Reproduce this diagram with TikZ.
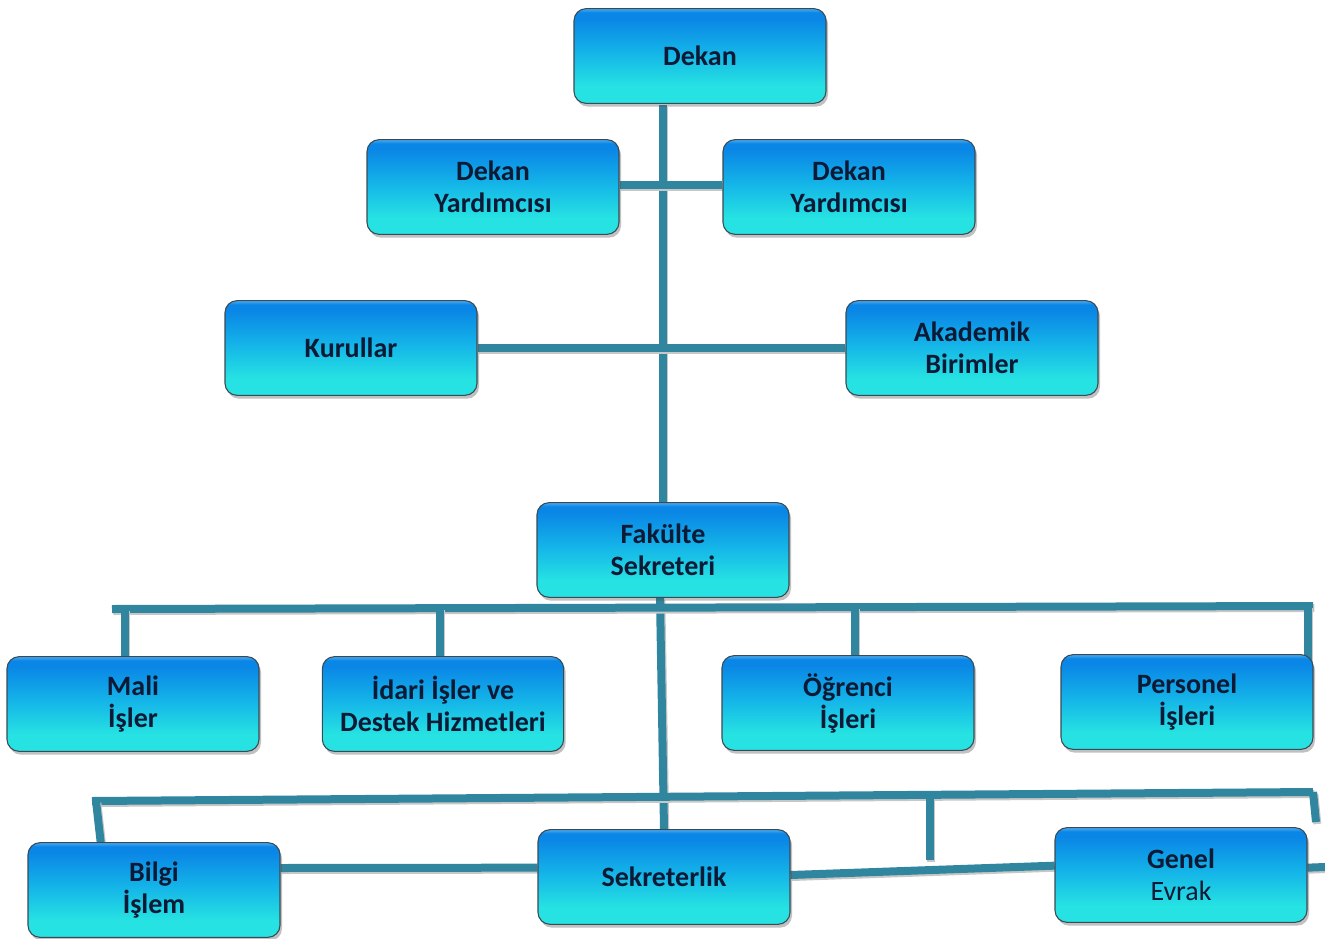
\documentclass[tikz,border=0pt]{standalone}
\usepackage{fontspec}
\setmainfont{Carlito}
\usetikzlibrary{shadows,calc,backgrounds}
\definecolor{lnc}{HTML}{31869F}
\definecolor{txc}{HTML}{0D1A36}
\definecolor{bxb}{HTML}{3A4A55}
\definecolor{cyB}{HTML}{26E2E2}
\definecolor{miB}{HTML}{14B4E8}
\definecolor{blT}{HTML}{0A86E6}
\definecolor{liT}{HTML}{4AAAF0}
\pgfdeclareverticalshading{boxshade}{100bp}{color(0bp)=(cyB); color(25bp)=(cyB); color(34bp)=(cyB); color(52bp)=(miB); color(70bp)=(blT); color(73bp)=(blT); color(75bp)=(liT); color(100bp)=(liT)}
\tikzset{
  x=0.75pt, y=-0.75pt,
  orgbox/.style={rounded corners=9pt, minimum width=189pt, minimum height=71pt,
    shading=boxshade, draw=bxb, line width=0.8pt, align=center,
    font=\fontsize{21}{24}\selectfont\bfseries, text=txc,
    drop shadow={shadow xshift=1.5pt, shadow yshift=-2.5pt, opacity=0.35, fill=black!70}},
  conn/.style={draw=lnc, line width=6pt,
    preaction={draw=black!22, line width=6pt, transform canvas={xshift=1pt,yshift=-1.5pt}}}
}
\begin{document}
\begin{tikzpicture}
\useasboundingbox (0,0) rectangle (1325,939);
% nodes (positions in px)
\node[orgbox] (dekan) at (700,56) {Dekan};
\node[orgbox] (dy1) at (493,187) {Dekan\\Yardımcısı};
\node[orgbox] (dy2) at (849,187) {Dekan\\Yardımcısı};
\node[orgbox] (kur) at (351,348) {Kurullar};
\node[orgbox] (aka) at (972,348) {Akademik\\Birimler};
\node[orgbox] (fak) at (663,550) {Fakülte\\Sekreteri};
\node[orgbox] (mali) at (133,704) {Mali\\İşler};
\node[orgbox, minimum width=181pt] (idari) at (443,704) {İdari İşler ve\\Destek Hizmetleri};
\node[orgbox] (ogr) at (848,703) {Öğrenci\\İşleri};
\node[orgbox] (pers) at (1187,702) {Personel\\İşleri};
\node[orgbox] (bilgi) at (154,890) {Bilgi\\İşlem};
\node[orgbox] (sek) at (664,877) {Sekreterlik};
\node[orgbox] (genel) at (1181,875) {Genel\\\mdseries Evrak};
% bar coordinates
\coordinate (b1L) at (112,609);
\coordinate (b1R) at (1313,606);
\coordinate (b1a) at (125,609);
\coordinate (b1b) at (440,608);
\coordinate (b1c) at (855,607);
\coordinate (b1d) at (1308,606);
\coordinate (pd) at (1308,662);
\coordinate (b2L) at (92,801);
\coordinate (b2R) at (1313,792);
\coordinate (b2a) at (96,801);
\coordinate (b2m) at (930,797);
\coordinate (b2d) at (930,860);
\coordinate (b2e) at (1316,822);
\coordinate (edge) at (1325,867);
\coordinate (dkx) at (663,105);
\begin{scope}[on background layer]
  % main spine
  \draw[conn] (dkx) -- (fak.north);
  \draw[conn] (fak.south) ++(-3,0) -- (sek.north);
  % deputies and councils
  \draw[conn] (dy1.east) ++(0,-2) -- ([yshift=1.5pt]dy2.west);
  \draw[conn] (kur.east) -- (aka.west);
  % first bar
  \draw[conn] (b1L) -- (b1R);
  \draw[conn] (b1a) -- (b1a |- mali.north);
  \draw[conn] (b1b) -- (b1b |- idari.north);
  \draw[conn] (b1c) -- (b1c |- ogr.north);
  \draw[conn] (b1d) -- (pd);
  % second bar
  \draw[conn] (b2L) -- (b2R);
  \draw[conn] (b2a) -- ([xshift=-40pt]bilgi.north);
  \draw[conn] (b2m) -- (b2d);
  \draw[conn] (b2R) -- (b2e);
  % bottom row
  \draw[conn] ([yshift=16.5pt]bilgi.east) -- ([yshift=7pt]sek.west);
  \draw[conn] ([yshift=1.5pt]sek.east) -- ([yshift=7pt]genel.west);
  \draw[conn] ([yshift=5.5pt]genel.east) -- (edge);
\end{scope}
\end{tikzpicture}
\end{document}
